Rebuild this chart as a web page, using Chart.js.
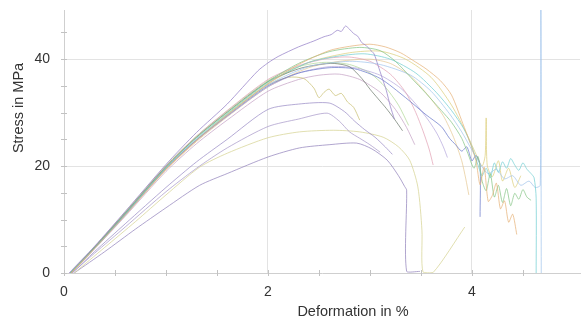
<!DOCTYPE html>
<html>
<head>
<meta charset="utf-8">
<script src="https://cdn.jsdelivr.net/npm/chart.js@4/dist/chart.umd.min.js"></script>
<style>
    body { margin: 0; background: #fff; }
    .chart-box { width: 581px; height: 324px; position: relative; }
</style>
</head>
<body>
<div class="chart-box"><canvas id="myChart"></canvas></div>
<script>
// les courbes (deformation en %, contrainte en MPa)
const strain1 = [0.05, 0.3, 0.6, 1.0, 1.3, 1.6, 1.9, 2.0, 2.1, 2.3, 2.45, 2.55, 2.62, 2.68, 2.72, 2.76, 2.8, 2.84, 2.88, 2.92, 2.96, 3.0, 3.04, 3.08, 3.12, 3.16, 3.2, 3.24];
const stress1 = [0, 5, 11.5, 20.3, 26.3, 31.6, 37.8, 39.3, 40.5, 42.3, 43.4, 44.2, 44.6, 45.4, 45.2, 46.2, 45.6, 44.8, 44.3, 43.1, 42.6, 41.8, 41, 38.8, 36.5, 34.2, 31.2, 28.8];

const strain2 = [0.07, 0.3, 0.6, 1.0, 1.3, 1.6, 2.0, 2.3, 2.6, 2.8, 3.0, 3.15, 3.3, 3.42, 3.55, 3.69, 3.8, 3.91, 3.98, 4.04, 4.08, 4.12, 4.16, 4.2, 4.24, 4.28, 4.32, 4.36, 4.4, 4.44];
const stress2 = [0, 4.6, 10.8, 19.4, 24.8, 29.5, 35.4, 39, 41.6, 42.4, 42.8, 42.3, 41.2, 39.8, 38.2, 36, 33.3, 28, 24.5, 21, 16.5, 19.8, 13.4, 14.5, 16.8, 12, 13.5, 9.5, 11, 7.2];

const strain3 = [0.06, 0.3, 0.6, 1.0, 1.3, 1.6, 2.0, 2.3, 2.6, 2.9, 3.1, 3.25, 3.4, 3.55, 3.7, 3.8, 3.9, 3.96, 4.02, 4.06, 4.1, 4.14, 4.18, 4.22, 4.26, 4.3, 4.34, 4.38, 4.42, 4.46, 4.5, 4.54, 4.58];
const stress3 = [0, 4.8, 11.2, 19.8, 25.4, 30, 35.8, 39.2, 41.4, 42.2, 41.6, 39.6, 36.6, 33.6, 30.4, 28.2, 25.2, 22.4, 19.6, 21.8, 17.2, 15.4, 18.6, 14.2, 16.4, 13.2, 15.8, 12.6, 14.9, 13.8, 15.6, 14.2, 13.6];

const strain4 = [0.06, 0.3, 0.6, 1.0, 1.3, 1.6, 2.0, 2.4, 2.7, 2.95, 3.2, 3.45, 3.65, 3.8, 3.92, 4.0, 4.06, 4.1, 4.14, 4.18, 4.22, 4.26, 4.3, 4.34, 4.38, 4.42, 4.46, 4.5, 4.54, 4.58, 4.61, 4.63, 4.63];
const stress4 = [0, 4.7, 11, 19.7, 25.2, 29.8, 35.6, 39.4, 40.6, 41, 40, 37.4, 33.8, 30.4, 27, 23.6, 20.2, 18.2, 19.6, 17.8, 20.6, 18.8, 20.8, 19.6, 21.4, 20.2, 19.2, 20.6, 19.4, 18.6, 17.8, 14, 0];

const strain5 = [0.06, 0.3, 0.6, 1.0, 1.3, 1.6, 2.0, 2.4, 2.8, 3.1, 3.4, 3.6, 3.78, 3.9, 4.0, 4.08, 4.16, 4.24, 4.32, 4.4, 4.48, 4.56, 4.62, 4.67, 4.675, 4.68];
const stress5 = [0, 4.6, 10.8, 19.6, 25, 29.5, 35.2, 38.6, 39.6, 39, 37, 34, 29.8, 26.4, 23, 20.4, 18.6, 19.4, 17.6, 18.2, 16.4, 17.2, 16, 16.4, 60, 0];

const strain6 = [0.06, 0.3, 0.6, 1.0, 1.3, 1.6, 2.0, 2.3, 2.5, 2.65, 2.8, 2.92, 3.0, 3.08, 3.16, 3.24, 3.32];
const stress6 = [0, 4.8, 11.2, 19.9, 25.4, 30.1, 35.8, 38.2, 39, 39.2, 38.6, 36.4, 34.4, 32.6, 30.8, 28.8, 26.6];

const strain7 = [0.06, 0.3, 0.6, 1.0, 1.3, 1.6, 2.0, 2.3, 2.6, 2.85, 3.1, 3.35, 3.55, 3.7, 3.78, 3.84, 3.9, 3.95, 4.0, 4.04, 4.08, 4.08];
const stress7 = [0, 4.7, 11, 19.6, 24.9, 29.4, 35, 37.4, 38.4, 38.2, 36.4, 32.8, 29.6, 27.4, 25.2, 24, 22.8, 23.6, 21, 22, 20.2, 10.5];

const strain8 = [0.06, 0.3, 0.6, 1.0, 1.3, 1.6, 2.0, 2.3, 2.6, 2.8, 3.0, 3.2, 3.35, 3.45, 3.52, 3.58, 3.62];
const stress8 = [0, 4.9, 11.3, 20, 25.6, 30.4, 36.2, 38.8, 40.2, 40.4, 39.6, 37.2, 33.8, 30, 26.6, 23.2, 20.2];

const strain9 = [0.06, 0.3, 0.6, 1.0, 1.3, 1.6, 2.0, 2.3, 2.6, 2.85, 3.1, 3.3, 3.45, 3.58, 3.66, 3.72, 3.76];
const stress9 = [0, 4.7, 11, 19.5, 24.8, 29.3, 34.8, 37.4, 38.6, 38.4, 37, 34.6, 31.6, 28.4, 26, 23.6, 21.6];

const strain10 = [0.07, 0.3, 0.6, 1.0, 1.3, 1.6, 2.0, 2.2, 2.35, 2.45, 2.5, 2.55, 2.6, 2.66, 2.72, 2.78, 2.84, 2.9];
const stress10 = [0, 4.6, 10.9, 19.5, 24.9, 29.6, 35.2, 36.6, 36.4, 34.6, 32.8, 33.8, 34.4, 33.2, 33.6, 32, 31, 28.6];

const strain11 = [0.06, 0.3, 0.6, 1.0, 1.3, 1.6, 2.0, 2.3, 2.55, 2.8, 3.0, 3.15, 3.28, 3.38];
const stress11 = [0, 4.9, 11.4, 20.1, 25.6, 30.3, 36, 38.6, 39.4, 39, 37.4, 34.8, 31.4, 27.6];

const strain12 = [0.07, 0.3, 0.6, 1.0, 1.3, 1.6, 2.0, 2.3, 2.5, 2.7, 2.9, 3.1, 3.25, 3.36, 3.44];
const stress12 = [0, 4.5, 10.6, 19, 24.2, 28.6, 34, 36.2, 37, 37.2, 36.2, 33.8, 30.6, 27.2, 24];

const strain13 = [0.08, 0.3, 0.6, 1.0, 1.3, 1.6, 2.0, 2.3, 2.6, 2.75, 2.85, 2.95, 3.05, 3.15, 3.22];
const stress13 = [0, 4, 9.2, 16, 20.8, 25, 30.6, 31.6, 31.8, 30.2, 28.4, 26.8, 25.4, 23.6, 22.2];

const strain14 = [0.08, 0.3, 0.6, 1.0, 1.3, 1.6, 2.0, 2.3, 2.58, 2.7, 2.8, 2.9, 3.0, 3.1];
const stress14 = [0, 3.7, 8.6, 15.2, 19.6, 23.4, 27.4, 28.8, 29.9, 28.4, 26.4, 25.2, 24, 22.6];

const strain15 = [0.1, 0.4, 0.7, 1.0, 1.33, 1.6, 2.0, 2.31, 2.64, 2.9, 3.13, 3.28, 3.39, 3.47, 3.51, 3.52, 3.62, 3.93];
const stress15 = [0, 4.8, 9.6, 14.6, 19.8, 22.4, 25.3, 26.4, 26.7, 26.4, 25.4, 23.6, 21.1, 16.1, 8, 0.2, 0.1, 8.6];

const strain16 = [0.1, 0.4, 0.7, 1.0, 1.33, 1.6, 2.0, 2.31, 2.6, 2.87, 3.02, 3.17, 3.28, 3.34, 3.36, 3.36, 3.49];
const stress16 = [0, 4, 8.2, 12.2, 16.4, 18.6, 21.7, 23.4, 24, 24.3, 23.2, 21.1, 18.2, 16.2, 15.5, 0.3, 0.3];

const strain17 = [0.07, 0.3, 0.6, 1.0, 1.3, 1.6, 2.0, 2.4, 2.7, 3.0, 3.2, 3.4, 3.58, 3.72, 3.82, 3.9, 3.94, 3.97];
const stress17 = [0, 4.6, 10.8, 19.3, 24.6, 29.2, 34.8, 38.4, 39.6, 40, 39.2, 36.8, 33, 29.4, 25.4, 21, 17.6, 14.6];

const strain18 = [0.07, 0.3, 0.6, 1.0, 1.3, 1.6, 2.0, 2.4, 2.8, 3.1, 3.35, 3.6, 3.8, 3.95, 4.05, 4.1, 4.13, 4.14, 4.15, 4.2, 4.26, 4.3, 4.36, 4.42, 4.48];
const stress18 = [0, 4.7, 11, 19.6, 25, 29.7, 35.4, 39.4, 41.2, 41.5, 40, 36.6, 31.4, 26, 21.8, 20, 22, 29, 20.2, 18, 21, 17.2, 19.6, 16, 18.2];

// couleurs pales, un peu transparentes
const curveColors = [
    'rgba(150,130,200,0.75)', 'rgba(230,175,115,0.7)', 'rgba(130,195,130,0.7)', 'rgba(110,205,210,0.7)',
    'rgba(160,195,235,0.7)', 'rgba(80,95,80,0.6)', 'rgba(100,115,200,0.7)', 'rgba(225,160,180,0.7)',
    'rgba(180,165,220,0.7)', 'rgba(200,190,110,0.7)', 'rgba(175,215,150,0.7)', 'rgba(195,160,195,0.7)',
    'rgba(150,135,195,0.7)', 'rgba(165,150,200,0.7)', 'rgba(215,212,150,0.75)', 'rgba(150,135,190,0.75)',
    'rgba(230,200,145,0.7)', 'rgba(220,205,120,0.7)'
];

const xTickLabels = [0, 2, 4];
const yTickLabels = [0, 20, 40];

const allStrain = [strain1, strain2, strain3, strain4, strain5, strain6, strain7, strain8, strain9,
    strain10, strain11, strain12, strain13, strain14, strain15, strain16, strain17, strain18];
const allStress = [stress1, stress2, stress3, stress4, stress5, stress6, stress7, stress8, stress9,
    stress10, stress11, stress12, stress13, stress14, stress15, stress16, stress17, stress18];

// construire les datasets
let datasets = [];
for (let i = 0; i < allStrain.length; i++) {
    let pts = [];
    for (let j = 0; j < allStrain[i].length; j++) {
        pts.push({ x: allStrain[i][j], y: allStress[i][j] });
    }
    datasets.push({
        data: pts,
        borderColor: curveColors[i],
        borderWidth: 1,
        pointRadius: 0,
        showLine: true,
        tension: 0.25
    });
}

// petits traits de graduation qui traversent l'axe
const tickMarks = {
    id: 'tickMarks',
    beforeDatasetsDraw(chart) {
        const ctx = chart.ctx;
        const x = chart.scales.x;
        const y = chart.scales.y;
        ctx.save();
        ctx.strokeStyle = '#c2c2c2';
        ctx.lineWidth = 1;
        ctx.beginPath();
        x.ticks.forEach(t => {
            let px = Math.round(x.getPixelForValue(t.value)) + 0.5;
            ctx.moveTo(px, y.bottom - 3);
            ctx.lineTo(px, y.bottom + 3);
        });
        y.ticks.forEach(t => {
            let py = Math.round(y.getPixelForValue(t.value)) + 0.5;
            ctx.moveTo(x.left - 3, py);
            ctx.lineTo(x.left + 3, py);
        });
        ctx.stroke();
        ctx.restore();
    }
};

// titres des axes
const axisTitles = {
    id: 'axisTitles',
    afterDraw(chart) {
        const ctx = chart.ctx;
        ctx.save();
        ctx.fillStyle = '#333';
        ctx.font = '14.5px "Liberation Sans", Arial, sans-serif';
        ctx.textAlign = 'center';
        ctx.textBaseline = 'middle';
        ctx.fillText('Deformation in %', 353, 312);
        ctx.translate(19, 108);
        ctx.rotate(-Math.PI / 2);
        ctx.fillText('Stress in MPa', 0, 0);
        ctx.restore();
    }
};

function onStep(step) {
    return function (scale) {
        scale.ticks = scale.ticks.filter(t => Math.abs(t.value / step - Math.round(t.value / step)) < 1e-6);
    };
}

const ctx = document.getElementById('myChart').getContext('2d');
const myChart = new Chart(ctx, {
    type: 'scatter',
    data: { datasets: datasets },
    plugins: [tickMarks, axisTitles],
    options: {
        responsive: true,
        maintainAspectRatio: false,
        animation: false,
        layout: { padding: { top: 10, right: 1, left: 0, bottom: 0 } },
        plugins: {
            legend: { display: false },
            tooltip: { enabled: false }
        },
        scales: {
            x: {
                type: 'linear',
                min: 0,
                max: 5.06,
                afterBuildTicks: onStep(0.5),
                afterFit: function (scale) { scale.height = 51; scale.paddingRight = 0; },
                border: { color: '#cfcfcf' },
                grid: {
                    drawTicks: false,
                    color: c => (c.tick && xTickLabels.includes(c.tick.value) && c.tick.value !== 0) ? '#e3e3e3' : 'rgba(0,0,0,0)'
                },
                ticks: {
                    stepSize: 0.5,
                    autoSkip: false,
                    maxRotation: 0,
                    padding: 11,
                    color: '#333',
                    font: { family: '"Liberation Sans", Arial, sans-serif', size: 14 },
                    callback: v => xTickLabels.includes(v) ? String(v) : ''
                }
            },
            y: {
                min: 0,
                max: 49.2,
                afterBuildTicks: onStep(5),
                afterFit: function (scale) { scale.width = 64; scale.paddingTop = 0; scale.paddingBottom = 0; },
                border: { color: '#cfcfcf' },
                grid: {
                    drawTicks: false,
                    color: c => (c.tick && yTickLabels.includes(c.tick.value) && c.tick.value !== 0) ? '#e3e3e3' : 'rgba(0,0,0,0)'
                },
                ticks: {
                    stepSize: 5,
                    autoSkip: false,
                    padding: 14,
                    color: '#333',
                    font: { family: '"Liberation Sans", Arial, sans-serif', size: 14 },
                    callback: v => yTickLabels.includes(v) ? String(v) : ''
                }
            }
        }
    }
});
</script>
</body>
</html>
